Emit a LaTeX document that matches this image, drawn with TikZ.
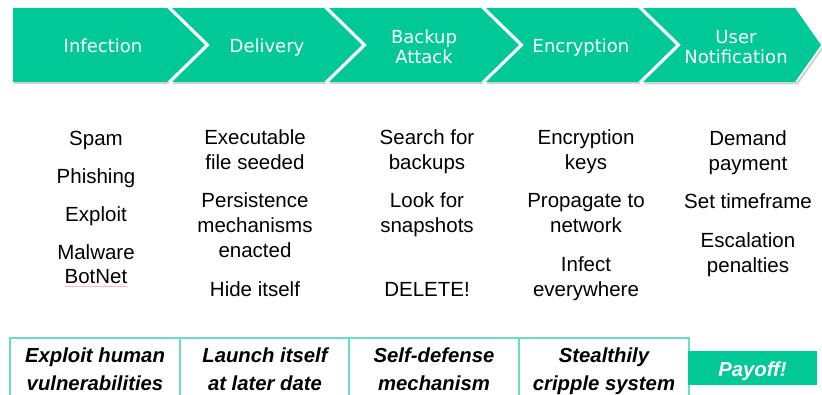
\documentclass[tikz,border=0pt]{standalone}
\usepackage{fontspec}
\setmainfont{Liberation Sans}
\newfontfamily\stagefont{DejaVu Sans}
\usetikzlibrary{decorations.pathmorphing}
\definecolor{ransgreen}{HTML}{00C896}
\definecolor{ransline}{HTML}{6ADDC2}

\begin{document}
\begin{tikzpicture}[x=1pt,y=-1pt]
\tikzstyle{every node}+=[inner sep=0pt]
\tikzstyle{stage}=[anchor=base,text=white,font=\stagefont\fontsize{18}{20}\selectfont]
\tikzstyle{item}=[anchor=base,font=\fontsize{20.5}{25}\selectfont]
\tikzstyle{goal}=[anchor=base,font=\bfseries\itshape\fontsize{20.3}{25}\selectfont]
\useasboundingbox (0,0) rectangle (822,395);
\fill [black!18] (14,82) rectangle (169,84.5);
\fill [black!18] (173,82) rectangle (326,84.5);
\fill [black!18] (330,82) rectangle (483,84.5);
\fill [black!18] (487,82) rectangle (640,84.5);
\fill [black!18] (644,82) -- (797,82) -- (822,47) -- (822,50) -- (798,84.5) -- (644,84.5) -- cycle;
\fill [ransgreen] (13,8) -- (167,8) -- (205,45) -- (167,82) -- (13,82) -- cycle;
\fill [ransgreen] (172,8) -- (324,8) -- (362,45) -- (324,82) -- (172,82) -- (210,45) -- cycle;
\fill [ransgreen] (329,8) -- (481,8) -- (519,45) -- (481,82) -- (329,82) -- (367,45) -- cycle;
\fill [ransgreen] (486,8) -- (638,8) -- (676,45) -- (638,82) -- (486,82) -- (524,45) -- cycle;
\fill [ransgreen] (643,8) -- (795,8) -- (821,45) -- (795,82) -- (643,82) -- (681,45) -- cycle;
\node [stage] (infection) at (103,53) {Infection};
\node [stage] (delivery) at (267,53) {Delivery};
\node [stage] (backup) at (424,44) {Backup};
\node [stage] (attack) at (424,63.5) {Attack};
\node [stage] (encryption) at (581,53) {Encryption};
\node [stage] (user) at (736,44) {User};
\node [stage] (notification) at (736,63.5) {Notification};
\node [item] (spam) at (96,146) {Spam};
\node [item] (phishing) at (96,184) {Phishing};
\node [item] (exploit) at (96,222) {Exploit};
\node [item] (malware) at (96,259.5) {Malware};
\node [item] (botnet) at (96,284) {BotNet};
\draw [red!45,decorate,decoration={snake,amplitude=0.5pt,segment length=3pt}] ([yshift=-2.5pt]botnet.base west) -- ([yshift=-2.5pt]botnet.base east);
\node [item] (exec) at (255,145) {Executable};
\node [item] (seeded) at (255,170) {file seeded};
\node [item] (persist) at (255,208) {Persistence};
\node [item] (mechs) at (255,233) {mechanisms};
\node [item] (enacted) at (255,258) {enacted};
\node [item] (hide) at (255,296.5) {Hide itself};
\node [item] (search) at (427,145) {Search for};
\node [item] (backups) at (427,170) {backups};
\node [item] (look) at (427,208) {Look for};
\node [item] (snaps) at (427,233) {snapshots};
\node [item] (delete) at (427,296.5) {DELETE!};
\node [item] (enckeys) at (586,145) {Encryption};
\node [item] (keys) at (586,170) {keys};
\node [item] (propagate) at (586,208) {Propagate to};
\node [item] (network) at (586,233) {network};
\node [item] (infect) at (586,271.5) {Infect};
\node [item] (everywhere) at (586,296.5) {everywhere};
\node [item] (demand) at (748,146) {Demand};
\node [item] (payment) at (748,171) {payment};
\node [item] (timeframe) at (748,209) {Set timeframe};
\node [item] (escalation) at (748,247.5) {Escalation};
\node [item] (penalties) at (748,272.5) {penalties};
\draw [ransline,line width=1.2pt] (10,338) rectangle (180,400);
\draw [ransline,line width=1.2pt] (180,338) rectangle (349,400);
\draw [ransline,line width=1.2pt] (349,338) rectangle (519,400);
\draw [ransline,line width=1.2pt] (519,338) rectangle (689,400);
\node [goal] (human) at (95,362.5) {Exploit human};
\node [goal] (vulner) at (95,390.5) {vulnerabilities};
\node [goal] (launch) at (265,362.5) {Launch itself};
\node [goal] (later) at (265,390.5) {at later date};
\node [goal] (selfdef) at (434,362.5) {Self-defense};
\node [goal] (mechanism) at (434,390.5) {mechanism};
\node [goal] (stealth) at (604,362.5) {Stealthily};
\node [goal] (cripple) at (604,390.5) {cripple system};
\node [fill=ransgreen,minimum width=129pt,minimum height=34pt] (payoffbox) at (752.5,368) {};
\node [goal,text=white] (payoff) at (752.5,376) {Payoff!};
\end{tikzpicture}
\end{document}
